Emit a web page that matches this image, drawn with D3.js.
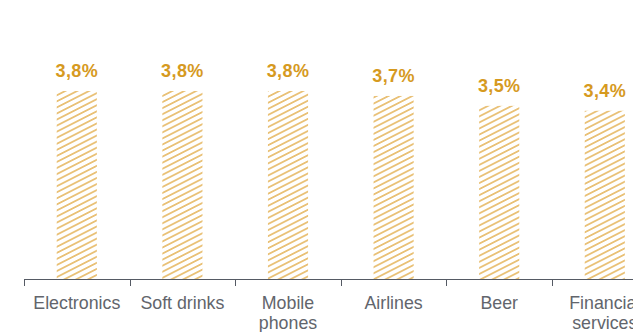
<!DOCTYPE html>
<html>
<head>
<meta charset="utf-8">
<script src="https://cdn.jsdelivr.net/npm/d3@7"></script>
<style>
  html, body { margin: 0; padding: 0; background: #fff; overflow: hidden; }
  svg { display: block; }
</style>
</head>
<body>
<div id="chart"></div>
<script>
// Share of revenue by industry
const categories = ["Electronics", "Soft drinks", "Mobile phones", "Airlines", "Beer", "Financial services"];
const categoryLines = [["Electronics"], ["Soft drinks"], ["Mobile", "phones"], ["Airlines"], ["Beer"], ["Financial", "services"]];
const values = [3.8, 3.8, 3.8, 3.7, 3.5, 3.4];
const valueLabels = ["3,8%", "3,8%", "3,8%", "3,7%", "3,5%", "3,4%"];

const W = 633, H = 332;
const baseY = 279, plotTop = 91;

const svg = d3.select("#chart").append("svg")
  .attr("width", W).attr("height", H);

// Diagonal hatch fill for the bars
const defs = svg.append("defs");
const pat = defs.append("pattern")
  .attr("id", "hatch")
  .attr("patternUnits", "userSpaceOnUse")
  .attr("width", 12).attr("height", 5.4)
  .attr("patternTransform", "rotate(-27)");
pat.append("line")
  .attr("x1", -1).attr("x2", 13)
  .attr("y1", 2.7).attr("y2", 2.7)
  .attr("stroke", "#dea233").attr("stroke-width", 1.2);

const x = d3.scaleBand()
  .domain(categories)
  .range([24, 24 + 105.6 * categories.length])
  .padding(0);

const y = d3.scaleLinear()
  .domain([0, 3.8])
  .range([baseY, plotTop]);

const barW = x.bandwidth() * 0.38;

// Bars
svg.append("g").selectAll("rect")
  .data(values)
  .join("rect")
  .attr("x", (d, i) => x(categories[i]) + x.bandwidth() / 2 - barW / 2)
  .attr("y", d => y(d))
  .attr("width", barW)
  .attr("height", d => baseY - y(d))
  .attr("fill", "url(#hatch)");

// Value labels
svg.append("g").selectAll("text")
  .data(values)
  .join("text")
  .attr("x", (d, i) => x(categories[i]) + x.bandwidth() / 2)
  .attr("y", d => y(d) - 14)
  .attr("text-anchor", "middle")
  .attr("font-family", "Liberation Sans, Arial, sans-serif")
  .attr("font-weight", "bold")
  .attr("font-size", 18)
  .attr("letter-spacing", 0.4)
  .attr("fill", "#d69a1f")
  .text((d, i) => valueLabels[i]);

// Axis line with category separators
const axisG = svg.append("g");
axisG.append("line")
  .attr("x1", x.range()[0]).attr("x2", x.range()[1])
  .attr("y1", baseY + 0.5).attr("y2", baseY + 0.5)
  .attr("stroke", "#555a64").attr("stroke-width", 1.2);
const tickXs = categories.map(c => x(c)).concat([x.range()[1]]);
axisG.selectAll("line.tick")
  .data(tickXs)
  .join("line")
  .attr("class", "tick")
  .attr("x1", d => Math.round(d) + 0.5).attr("x2", d => Math.round(d) + 0.5)
  .attr("y1", baseY).attr("y2", baseY + 7)
  .attr("stroke", "#555a64").attr("stroke-width", 1);

// Category labels
const catG = svg.append("g").selectAll("text")
  .data(categoryLines)
  .join("text")
  .attr("x", (d, i) => x(categories[i]) + x.bandwidth() / 2)
  .attr("y", 309)
  .attr("text-anchor", "middle")
  .attr("font-family", "Liberation Sans, Arial, sans-serif")
  .attr("font-size", 17.8)
  .attr("fill", "#62656c");
catG.selectAll("tspan")
  .data(d => d)
  .join("tspan")
  .attr("x", function () { return d3.select(this.parentNode).attr("x"); })
  .attr("dy", (d, i) => i === 0 ? 0 : 20)
  .text(d => d);
</script>
</body>
</html>
